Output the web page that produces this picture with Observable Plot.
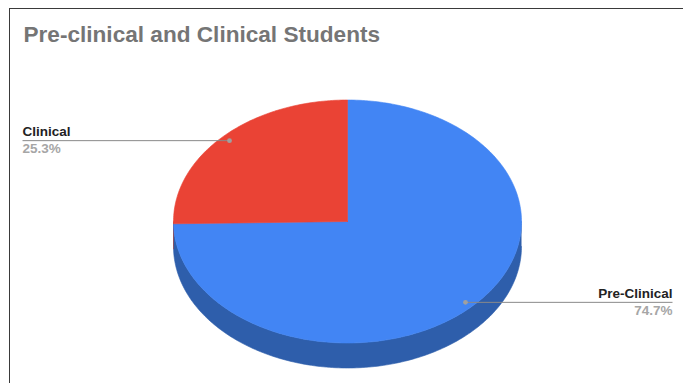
<!DOCTYPE html>
<html>
<head>
<meta charset="utf-8">
<script src="https://cdn.jsdelivr.net/npm/d3@7"></script>
<script src="https://cdn.jsdelivr.net/npm/@observablehq/plot@0.6"></script>
<style>
  html, body { margin: 0; padding: 0; background: #fff; }
  #wrap { position: relative; width: 683px; height: 383px; overflow: hidden; }
  #frame { position: absolute; left: 9px; top: 8px; right: 0; bottom: 0;
           border-top: 1px solid #3a3a3a; border-left: 1px solid #3a3a3a; }
  #chart { position: absolute; left: 0; top: 0; }
  svg { font-family: "Liberation Sans", Arial, sans-serif; }
</style>
</head>
<body>
<div id="wrap"><div id="frame"></div><div id="chart"></div></div>
<script>
// Data
const categories = ["Pre-Clinical", "Clinical"];
const shares = [74.7, 25.3];
const title = "Pre-clinical and Clinical Students";

// Styling
const topColors = ["#4285f4", "#ea4335"];
const sideColors = ["#2e5eab", "#a8322a"];
const W = 683, H = 383;
const labelSize = 13.5, titleSize = 22.6;

// 3D pie layout (pixels)
const pie = {cx: 347, cy: 221, rx: 174, ry: 121.5, depth: 25};
const labelSide = [{x: 672, anchor: "end"}, {x: 22, anchor: "start"}];

const total = d3.sum(shares);
// Angles measured clockwise from 12 o'clock
let acc = 0;
const slices = categories.map((name, i) => {
  const a0 = acc / total * 2 * Math.PI;
  acc += shares[i];
  const a1 = acc / total * 2 * Math.PI;
  return {name, value: shares[i], a0, a1, i};
});

const px = (a, f = 1) => pie.cx + pie.rx * f * Math.sin(a);
const py = (a, f = 1, dz = 0) => pie.cy - pie.ry * f * Math.cos(a) + dz;

function arc(a0, a1, dz = 0) {
  const n = Math.max(2, Math.ceil(Math.abs(a1 - a0) / (Math.PI / 180)));
  return d3.range(n + 1).map(k => {
    const a = a0 + (a1 - a0) * k / n;
    return {x: px(a), y: py(a, 1, dz)};
  });
}

// Top faces
const tops = slices.map(s => [{x: pie.cx, y: pie.cy}, ...arc(s.a0, s.a1), {x: pie.cx, y: pie.cy}]);

// Visible side walls: the front half, from 3 o'clock round to 9 o'clock
const sides = slices.map(s => {
  const lo = Math.max(s.a0, Math.PI / 2), hi = Math.min(s.a1, 3 * Math.PI / 2);
  if (hi <= lo) return null;
  return [...arc(lo, hi), ...arc(hi, lo, pie.depth)];
});

// Leader lines and labels
const fmt = d3.format(".1f");
const labels = slices.map(s => {
  const mid = (s.a0 + s.a1) / 2;
  const dx = px(mid, 0.95), dy = py(mid, 0.95);
  return {
    name: s.name,
    pct: fmt(s.value / total * 100) + "%",
    dotX: dx, dotY: dy,
    lx: labelSide[s.i].x, anchor: labelSide[s.i].anchor
  };
});

const marks = [];
sides.forEach((pts, i) => {
  if (pts) marks.push(Plot.line(pts, {x: "x", y: "y", fill: sideColors[i], stroke: sideColors[i], strokeWidth: 0.6}));
});
tops.forEach((pts, i) => {
  marks.push(Plot.line(pts, {x: "x", y: "y", fill: topColors[i], stroke: topColors[i], strokeWidth: 0.6}));
});
marks.push(
  Plot.link(labels, {x1: "dotX", y1: "dotY", x2: "lx", y2: "dotY", stroke: "#8a8a8a", strokeWidth: 1}),
  Plot.dot(labels, {x: "dotX", y: "dotY", r: 2.4, fill: "#a0a0a0", stroke: "none"})
);
labels.forEach(l => {
  marks.push(
    Plot.text([l], {x: "lx", y: d => d.dotY - 4.5 - 0.32 * labelSize, text: "name", textAnchor: l.anchor,
                    fontSize: labelSize, fontWeight: "bold", fill: "#222"}),
    Plot.text([l], {x: "lx", y: d => d.dotY + 12.5 - 0.32 * labelSize, text: "pct", textAnchor: l.anchor,
                    fontSize: labelSize, fontWeight: "bold", fill: "#a6a6a6"})
  );
});
marks.push(
  Plot.text([title], {x: () => 23, y: () => 41 - 0.32 * titleSize, text: d => d, textAnchor: "start",
                      fontSize: titleSize, fontWeight: "bold", fill: "#757575"})
);

const chart = Plot.plot({
  width: W, height: H, margin: 0,
  x: {domain: [0, W], range: [0, W], axis: null},
  y: {domain: [0, H], range: [0, H], axis: null},
  style: {background: "transparent", overflow: "visible"},
  marks
});
document.getElementById("chart").append(chart);
</script>
</body>
</html>
